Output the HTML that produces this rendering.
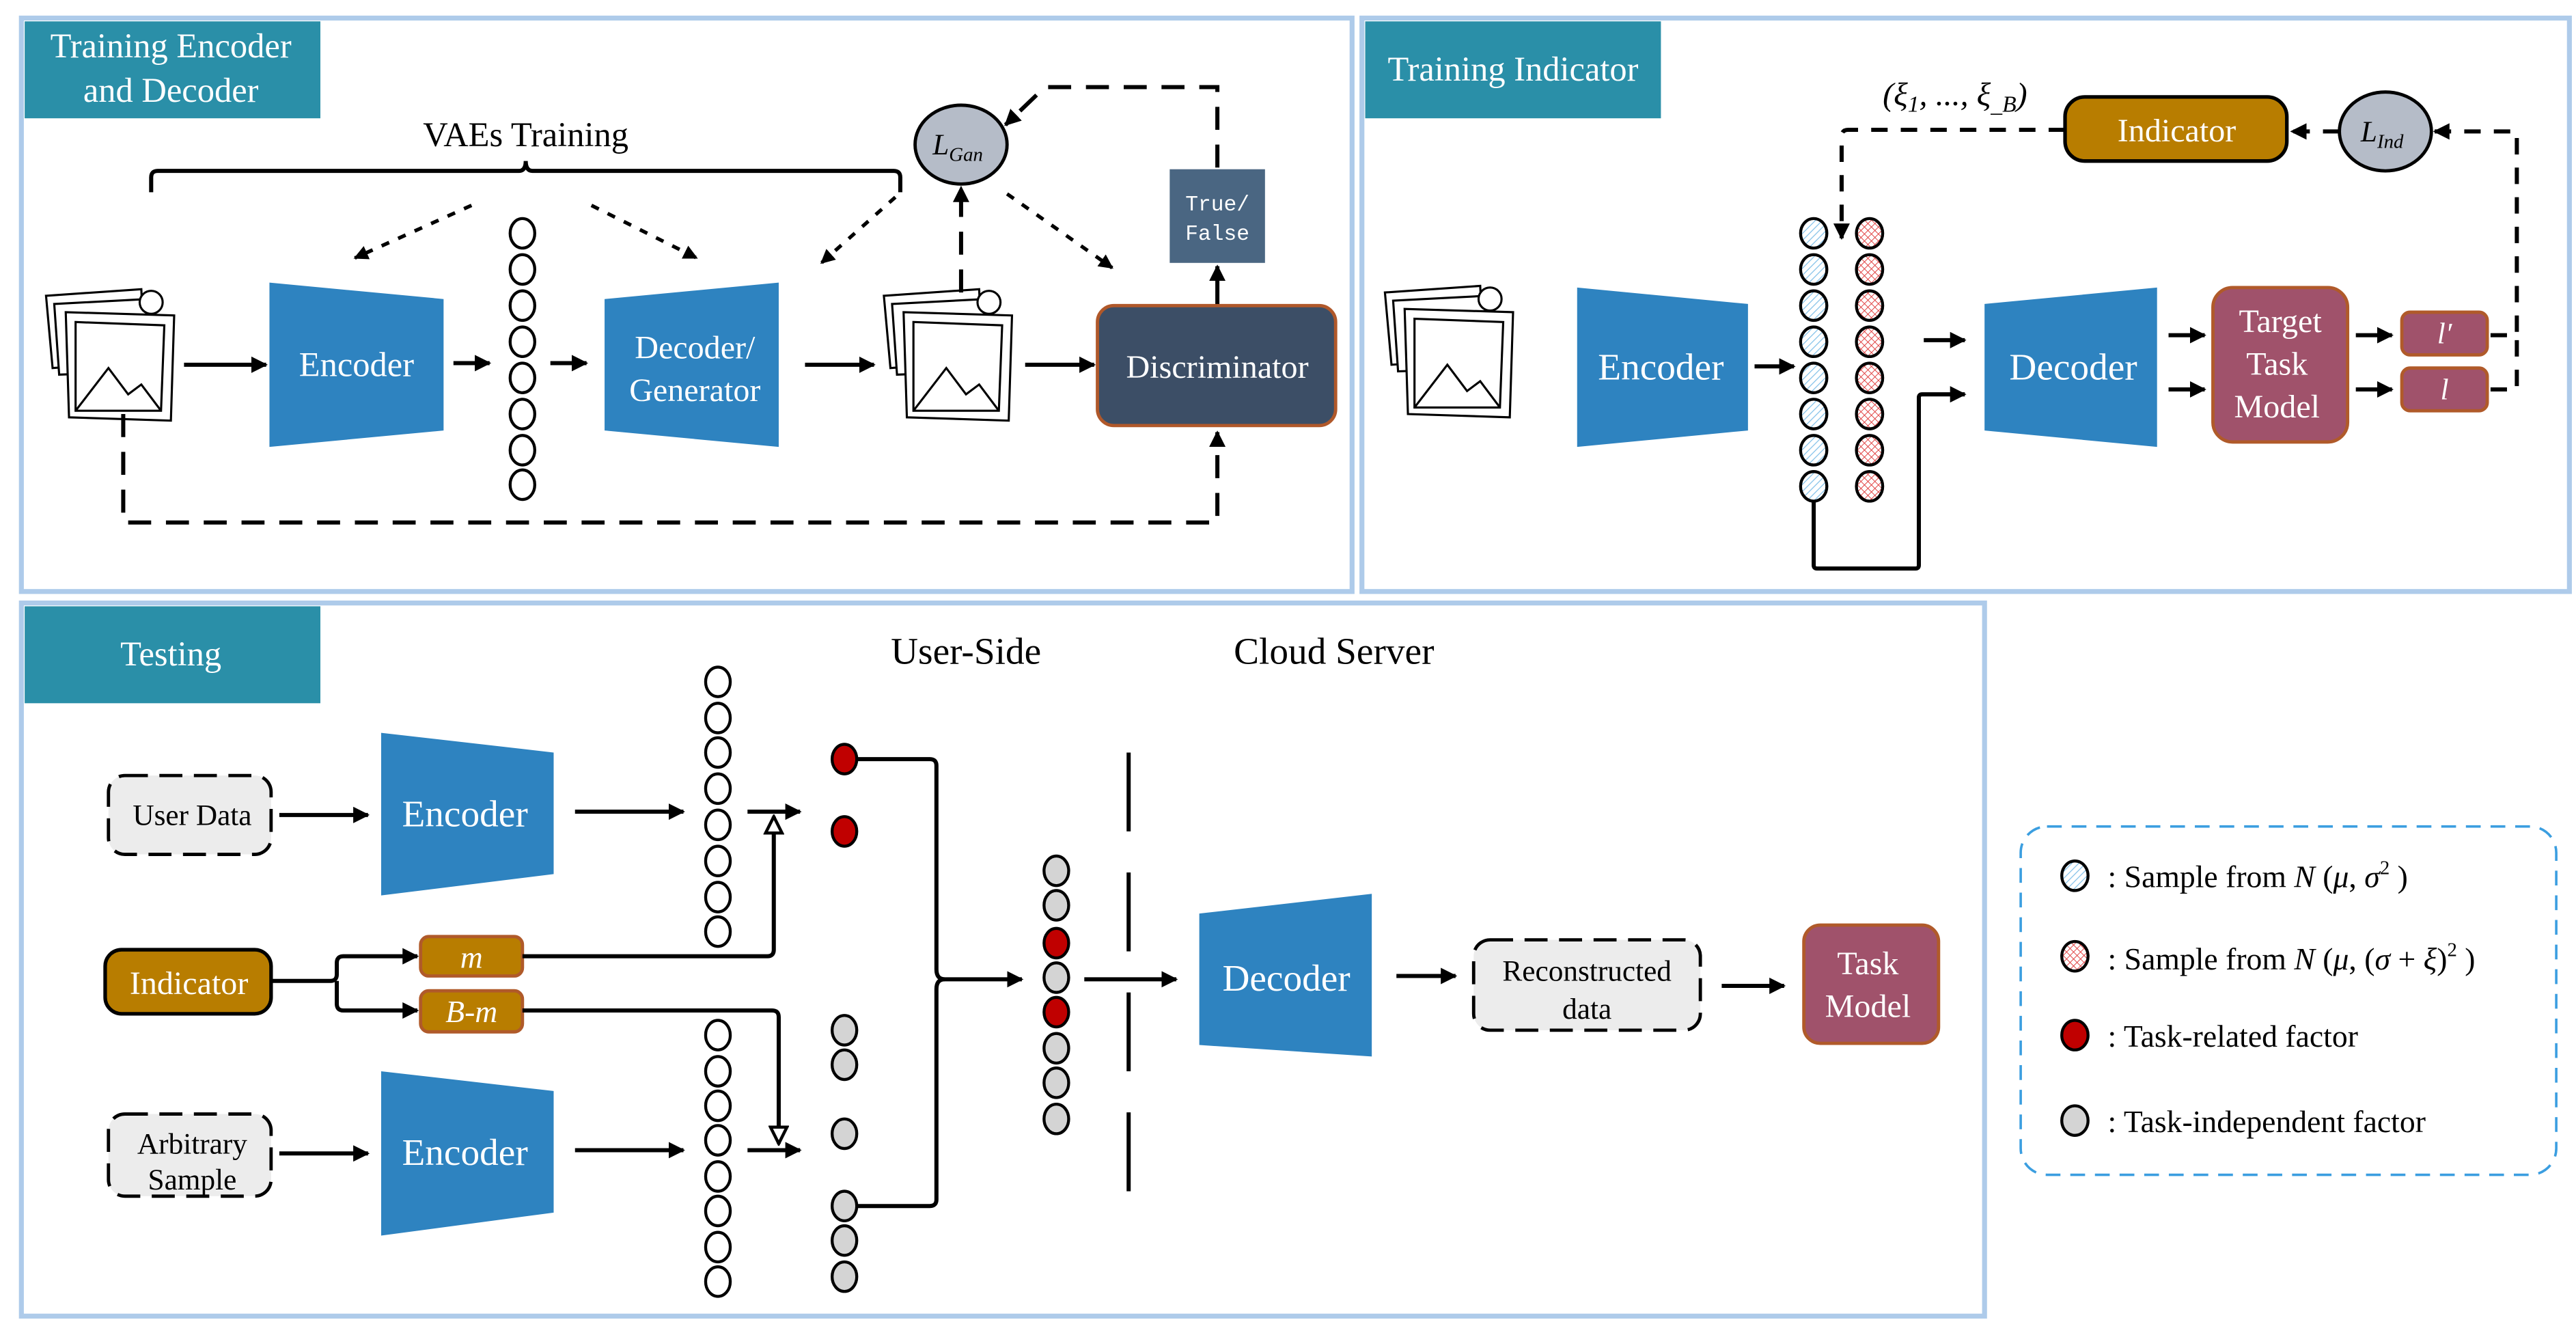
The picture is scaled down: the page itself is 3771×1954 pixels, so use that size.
<!DOCTYPE html>
<html><head><meta charset="utf-8"><style>
html,body{margin:0;padding:0;background:#fff;}
svg{display:block;}
svg text, svg tspan{font-family:"Liberation Serif","DejaVu Serif",serif;}
</style></head><body>
<svg width="3771" height="1954" viewBox="0 0 1568 812.5" xmlns="http://www.w3.org/2000/svg" font-family="Liberation Serif, DejaVu Serif, serif">
<defs>
<marker id="a" viewBox="0 0 10 10" refX="9" refY="5" markerWidth="4" markerHeight="4" orient="auto"><path d="M0,0L10,5L0,10z" fill="#000"/></marker>
<marker id="h" viewBox="0 0 10 10" refX="9" refY="5" markerWidth="5" markerHeight="5" orient="auto"><path d="M1,1L9,5L1,9z" fill="#fff" stroke="#000" stroke-width="1.5"/></marker>
<pattern id="hb" width="3" height="3" patternUnits="userSpaceOnUse" patternTransform="rotate(45)"><rect width="3" height="3" fill="#fff"/><line x1="0" y1="0" x2="0" y2="3" stroke="#7fbfe8" stroke-width="1"/></pattern>
<pattern id="hr" width="3" height="3" patternUnits="userSpaceOnUse" patternTransform="rotate(45)"><rect width="3" height="3" fill="#fff"/><line x1="0" y1="0" x2="0" y2="3" stroke="#e04040" stroke-width="0.8"/><line x1="0" y1="0" x2="3" y2="0" stroke="#e04040" stroke-width="0.8"/></pattern>
<g id="img" fill="#fff" stroke="#000" stroke-width="1.3">
<path d="M0,0 L58,-4 L60,40 L4,44 z"/>
<path d="M5,5 L62,2 L64,46 L8,48 z"/>
<path d="M12,10 L78,12 L76,76 L14,74 z"/>
<circle cx="64" cy="4" r="7"/>
<path d="M18,16 L72,18 L70,70 L18,70 z"/>
<path d="M18,70 L38,44 L50,60 L58,54 L70,70" fill="none"/>
</g>
</defs>
<rect width="1568" height="812.5" fill="#fff"/>
<!-- panels -->
<rect x="13" y="11" width="810" height="349" fill="none" stroke="#aecbea" stroke-width="3"/>
<rect x="829" y="11" width="735" height="349" fill="none" stroke="#aecbea" stroke-width="3"/>
<rect x="13" y="367" width="1195" height="434" fill="none" stroke="#aecbea" stroke-width="3"/>
<rect x="15" y="13" width="180" height="59" fill="#2a8fa8"/>
<text x="104" y="35" font-size="21" fill="#fff" text-anchor="middle">Training Encoder</text>
<text x="104" y="62" font-size="21" fill="#fff" text-anchor="middle">and  Decoder</text>
<rect x="831" y="13" width="180" height="59" fill="#2a8fa8"/>
<text x="921" y="49" font-size="21" fill="#fff" text-anchor="middle">Training Indicator</text>
<rect x="15" y="369" width="180" height="59" fill="#2a8fa8"/>
<text x="104" y="405" font-size="21" fill="#fff" text-anchor="middle">Testing</text>

<!-- Panel 1 -->
<text x="320" y="89" font-size="21" text-anchor="middle">VAEs Training</text>
<path d="M92,117 V108 Q92,104 96,104 H316 Q320,104 320,98 Q320,104 324,104 H544 Q548,104 548,108 V117" fill="none" stroke="#000" stroke-width="2.5"/>
<g stroke="#000" stroke-width="2.2" stroke-dasharray="5,6" fill="none" marker-end="url(#a)">
<path d="M287,125 L216,157"/><path d="M360,125 L424,157"/><path d="M545,120 L500,160"/><path d="M613,118 L677,163"/>
</g>
<use href="#img" x="28" y="180"/>
<use href="#img" x="538" y="180"/>
<polygon points="164,172 270,182 270,262 164,272" fill="#2e83c0"/>
<text x="217" y="229" font-size="21" fill="#fff" text-anchor="middle">Encoder</text>
<polygon points="368,182 474,172 474,272 368,262" fill="#2e83c0"/>
<text x="423" y="218" font-size="20" fill="#fff" text-anchor="middle">Decoder/</text>
<text x="423" y="244" font-size="20" fill="#fff" text-anchor="middle">Generator</text>
<g fill="#fff" stroke="#000" stroke-width="1.8">
<ellipse cx="318" cy="142" rx="7.5" ry="9"/><ellipse cx="318" cy="164" rx="7.5" ry="9"/><ellipse cx="318" cy="186" rx="7.5" ry="9"/><ellipse cx="318" cy="208" rx="7.5" ry="9"/><ellipse cx="318" cy="230" rx="7.5" ry="9"/><ellipse cx="318" cy="252" rx="7.5" ry="9"/><ellipse cx="318" cy="274" rx="7.5" ry="9"/><ellipse cx="318" cy="295" rx="7.5" ry="9"/>
</g>
<g stroke="#000" stroke-width="2.5" fill="none" marker-end="url(#a)">
<path d="M112,222 H162"/><path d="M276,221 H298"/><path d="M335,221 H357"/><path d="M490,222 H532"/><path d="M624,222 H666"/><path d="M741,186 V162"/>
</g>
<rect x="668" y="186" width="145" height="73" rx="10" fill="#3c4e66" stroke="#b0582a" stroke-width="2"/>
<text x="741" y="230" font-size="20" fill="#fff" text-anchor="middle">Discriminator</text>
<rect x="712" y="103" width="58" height="57" fill="#4a6682"/>
<text x="741" y="128" font-size="13" fill="#fff" text-anchor="middle" style="font-family:'Liberation Mono',monospace">True/</text>
<text x="741" y="146" font-size="13" fill="#fff" text-anchor="middle" style="font-family:'Liberation Mono',monospace">False</text>
<ellipse cx="585" cy="88" rx="28" ry="24" fill="#b5bcc8" stroke="#000" stroke-width="2"/>
<text x="583" y="94" font-size="18" font-style="italic" text-anchor="middle">L<tspan font-size="12" dy="4">Gan</tspan></text>
<g stroke="#000" stroke-width="2.5" fill="none" stroke-dasharray="14,9">
<path d="M741,102 V53 H636 L612,76" marker-end="url(#a)"/>
<path d="M585,178 V114" marker-end="url(#a)"/>
<path d="M75,252 V318 H741 V263" marker-end="url(#a)"/>
</g>

<!-- Panel 2 -->
<text x="1190" y="64" font-size="20" font-style="italic" text-anchor="middle">(ξ<tspan font-size="14" dy="4">1</tspan><tspan dy="-4">, ..., ξ</tspan><tspan font-size="14" dy="4">_B</tspan><tspan dy="-4">)</tspan></text>
<rect x="1257" y="59" width="135" height="39" rx="12" fill="#b87d00" stroke="#000" stroke-width="2.2"/>
<text x="1325" y="86" font-size="20" fill="#fff" text-anchor="middle">Indicator</text>
<ellipse cx="1452" cy="80" rx="28" ry="24" fill="#b5bcc8" stroke="#000" stroke-width="2"/>
<text x="1450" y="86" font-size="18" font-style="italic" text-anchor="middle">L<tspan font-size="12" dy="4">Ind</tspan></text>
<g stroke="#000" stroke-width="2.5" fill="none" stroke-dasharray="10,8">
<path d="M1257,79 H1125 Q1121,79 1121,83 V145" marker-end="url(#a)"/>
<path d="M1516,204 H1532 V80 H1482" marker-end="url(#a)"/>
<path d="M1516,237 H1532 V204"/>
<path d="M1424,80 H1395" marker-end="url(#a)"/>
</g>
<use href="#img" x="843" y="178"/>
<polygon points="960,175 1064,185 1064,262 960,272" fill="#2e83c0"/>
<text x="1011" y="231" font-size="23" fill="#fff" text-anchor="middle">Encoder</text>
<polygon points="1208,185 1313,175 1313,272 1208,262" fill="#2e83c0"/>
<text x="1262" y="231" font-size="23" fill="#fff" text-anchor="middle">Decoder</text>
<g stroke="#000" stroke-width="1.8">
<g fill="url(#hb)">
<ellipse cx="1104" cy="142" rx="8" ry="9"/><ellipse cx="1104" cy="164" rx="8" ry="9"/><ellipse cx="1104" cy="186" rx="8" ry="9"/><ellipse cx="1104" cy="208" rx="8" ry="9"/><ellipse cx="1104" cy="230" rx="8" ry="9"/><ellipse cx="1104" cy="252" rx="8" ry="9"/><ellipse cx="1104" cy="274" rx="8" ry="9"/><ellipse cx="1104" cy="296" rx="8" ry="9"/>
</g>
<g fill="url(#hr)">
<ellipse cx="1138" cy="142" rx="8" ry="9"/><ellipse cx="1138" cy="164" rx="8" ry="9"/><ellipse cx="1138" cy="186" rx="8" ry="9"/><ellipse cx="1138" cy="208" rx="8" ry="9"/><ellipse cx="1138" cy="230" rx="8" ry="9"/><ellipse cx="1138" cy="252" rx="8" ry="9"/><ellipse cx="1138" cy="274" rx="8" ry="9"/><ellipse cx="1138" cy="296" rx="8" ry="9"/>
</g>
</g>
<g stroke="#000" stroke-width="2.5" fill="none" marker-end="url(#a)">
<path d="M1068,223 H1092"/><path d="M1171,207 H1196"/><path d="M1104,305 V344 Q1104,346 1106,346 H1166 Q1168,346 1168,344 V242 Q1168,240 1170,240 H1196"/>
<path d="M1320,204 H1342"/><path d="M1320,237 H1342"/><path d="M1434,204 H1456"/><path d="M1434,237 H1456"/>
</g>
<rect x="1347" y="175" width="82" height="94" rx="12" fill="#a0526b" stroke="#b05a2a" stroke-width="2"/>
<text x="1388" y="202" font-size="20" fill="#fff" text-anchor="middle">Target</text>
<text x="1386" y="228" font-size="20" fill="#fff" text-anchor="middle">Task</text>
<text x="1386" y="254" font-size="20" fill="#fff" text-anchor="middle">Model</text>
<rect x="1462" y="190" width="52" height="26" rx="5" fill="#a0526b" stroke="#b05a2a" stroke-width="2"/>
<text x="1488" y="209" font-size="18" fill="#fff" font-style="italic" text-anchor="middle">l′</text>
<rect x="1462" y="224" width="52" height="26" rx="5" fill="#a0526b" stroke="#b05a2a" stroke-width="2"/>
<text x="1488" y="243" font-size="18" fill="#fff" font-style="italic" text-anchor="middle">l</text>

<!-- Panel 3 -->
<text x="588" y="404" font-size="23" text-anchor="middle">User-Side</text>
<text x="812" y="404" font-size="23" text-anchor="middle">Cloud Server</text>
<rect x="66" y="472" width="99" height="48" rx="10" fill="#ececec" stroke="#000" stroke-width="2" stroke-dasharray="14,7"/>
<text x="117" y="502" font-size="18" text-anchor="middle">User Data</text>
<rect x="66" y="678" width="99" height="50" rx="10" fill="#ececec" stroke="#000" stroke-width="2" stroke-dasharray="14,7"/>
<text x="117" y="702" font-size="18" text-anchor="middle">Arbitrary</text>
<text x="117" y="724" font-size="18" text-anchor="middle">Sample</text>
<polygon points="232,446 337,458 337,532 232,545" fill="#2e83c0"/>
<text x="283" y="503" font-size="23" fill="#fff" text-anchor="middle">Encoder</text>
<polygon points="232,652 337,664 337,738 232,752" fill="#2e83c0"/>
<text x="283" y="709" font-size="23" fill="#fff" text-anchor="middle">Encoder</text>
<rect x="64" y="578" width="101" height="39" rx="10" fill="#b87d00" stroke="#000" stroke-width="2.2"/>
<text x="115" y="605" font-size="20" fill="#fff" text-anchor="middle">Indicator</text>
<rect x="256" y="570" width="62" height="24" rx="5" fill="#b87d00" stroke="#b05a2a" stroke-width="2"/>
<text x="287" y="589" font-size="19" fill="#fff" font-style="italic" text-anchor="middle">m</text>
<rect x="256" y="603" width="62" height="25" rx="5" fill="#b87d00" stroke="#b05a2a" stroke-width="2"/>
<text x="287" y="622" font-size="19" fill="#fff" font-style="italic" text-anchor="middle">B-m</text>
<g fill="#fff" stroke="#000" stroke-width="1.8">
<ellipse cx="437" cy="415" rx="7.5" ry="9"/><ellipse cx="437" cy="437" rx="7.5" ry="9"/><ellipse cx="437" cy="458" rx="7.5" ry="9"/><ellipse cx="437" cy="480" rx="7.5" ry="9"/><ellipse cx="437" cy="502" rx="7.5" ry="9"/><ellipse cx="437" cy="524" rx="7.5" ry="9"/><ellipse cx="437" cy="546" rx="7.5" ry="9"/><ellipse cx="437" cy="567" rx="7.5" ry="9"/>
<ellipse cx="437" cy="630" rx="7.5" ry="9"/><ellipse cx="437" cy="652" rx="7.5" ry="9"/><ellipse cx="437" cy="673" rx="7.5" ry="9"/><ellipse cx="437" cy="694" rx="7.5" ry="9"/><ellipse cx="437" cy="716" rx="7.5" ry="9"/><ellipse cx="437" cy="737" rx="7.5" ry="9"/><ellipse cx="437" cy="759" rx="7.5" ry="9"/><ellipse cx="437" cy="780" rx="7.5" ry="9"/>
</g>
<g stroke="#000" stroke-width="1.8">
<g fill="#c00000"><ellipse cx="514" cy="462" rx="7.5" ry="9"/><ellipse cx="514" cy="506" rx="7.5" ry="9"/><ellipse cx="643" cy="574" rx="7.5" ry="9"/><ellipse cx="643" cy="616" rx="7.5" ry="9"/></g>
<g fill="#d4d4d4"><ellipse cx="514" cy="627" rx="7.5" ry="9"/><ellipse cx="514" cy="648" rx="7.5" ry="9"/><ellipse cx="514" cy="690" rx="7.5" ry="9"/><ellipse cx="514" cy="734" rx="7.5" ry="9"/><ellipse cx="514" cy="755" rx="7.5" ry="9"/><ellipse cx="514" cy="777" rx="7.5" ry="9"/>
<ellipse cx="643" cy="530" rx="7.5" ry="9"/><ellipse cx="643" cy="551" rx="7.5" ry="9"/><ellipse cx="643" cy="595" rx="7.5" ry="9"/><ellipse cx="643" cy="638" rx="7.5" ry="9"/><ellipse cx="643" cy="659" rx="7.5" ry="9"/><ellipse cx="643" cy="681" rx="7.5" ry="9"/></g>
</g>
<g stroke="#000" stroke-width="2.5" fill="none">
<path d="M170,496 H224" marker-end="url(#a)"/><path d="M170,702 H224" marker-end="url(#a)"/>
<path d="M350,494 H416" marker-end="url(#a)"/><path d="M350,700 H416" marker-end="url(#a)"/>
<path d="M455,494 H487" marker-end="url(#a)"/><path d="M455,700 H487" marker-end="url(#a)"/>
<path d="M165,597 H201 Q205,597 205,593 V586 Q205,582 209,582 H254" marker-end="url(#a)"/>
<path d="M205,597 V611 Q205,615 209,615 H254" marker-end="url(#a)"/>
<path d="M318,582 H467 Q471,582 471,578 V497" marker-end="url(#h)"/>
<path d="M318,615 H470 Q474,615 474,619 V696" marker-end="url(#h)"/>
<path d="M522,462 H566 Q570,462 570,466 V590 Q570,596 575,596 H622" marker-end="url(#a)"/>
<path d="M522,734 H566 Q570,734 570,730 V602 Q570,596 575,596"/>
<path d="M660,596 H716" marker-end="url(#a)"/>
<path d="M850,594 H886" marker-end="url(#a)"/>
<path d="M1048,600 H1086" marker-end="url(#a)"/>
</g>
<path d="M687,458 V730" stroke="#000" stroke-width="2.5" stroke-dasharray="48,25"/>
<polygon points="730,556 835,544 835,643 730,636" fill="#2e83c0"/>
<text x="783" y="603" font-size="23" fill="#fff" text-anchor="middle">Decoder</text>
<rect x="897" y="572" width="138" height="55" rx="10" fill="#ececec" stroke="#000" stroke-width="2" stroke-dasharray="14,7"/>
<text x="966" y="597" font-size="18" text-anchor="middle">Reconstructed</text>
<text x="966" y="620" font-size="18" text-anchor="middle">data</text>
<rect x="1098" y="563" width="82" height="72" rx="10" fill="#a0526b" stroke="#b05a2a" stroke-width="2"/>
<text x="1137" y="593" font-size="20" fill="#fff" text-anchor="middle">Task</text>
<text x="1137" y="619" font-size="20" fill="#fff" text-anchor="middle">Model</text>

<!-- legend -->
<rect x="1230" y="503" width="326" height="212" rx="16" fill="none" stroke="#3b9ee0" stroke-width="1.5" stroke-dasharray="9,6"/>
<g stroke="#000" stroke-width="1.8">
<ellipse cx="1263" cy="533" rx="8" ry="9" fill="url(#hb)"/>
<ellipse cx="1263" cy="582" rx="8" ry="9" fill="url(#hr)"/>
<ellipse cx="1263" cy="630" rx="8" ry="9" fill="#c00000"/>
<ellipse cx="1263" cy="682" rx="8" ry="9" fill="#d4d4d4"/>
</g>
<g font-size="19">
<text x="1283" y="540">: Sample from <tspan font-style="italic">N</tspan> (<tspan font-style="italic">μ</tspan>, <tspan font-style="italic">σ</tspan><tspan font-size="12" dy="-8">2</tspan><tspan dy="8"> )</tspan></text>
<text x="1283" y="590">: Sample from <tspan font-style="italic">N</tspan> (<tspan font-style="italic">μ</tspan>, (<tspan font-style="italic">σ</tspan> + <tspan font-style="italic">ξ</tspan>)<tspan font-size="12" dy="-8">2</tspan><tspan dy="8"> )</tspan></text>
<text x="1283" y="637">: Task-related factor</text>
<text x="1283" y="689">: Task-independent factor</text>
</g>
</svg>
</body></html>
